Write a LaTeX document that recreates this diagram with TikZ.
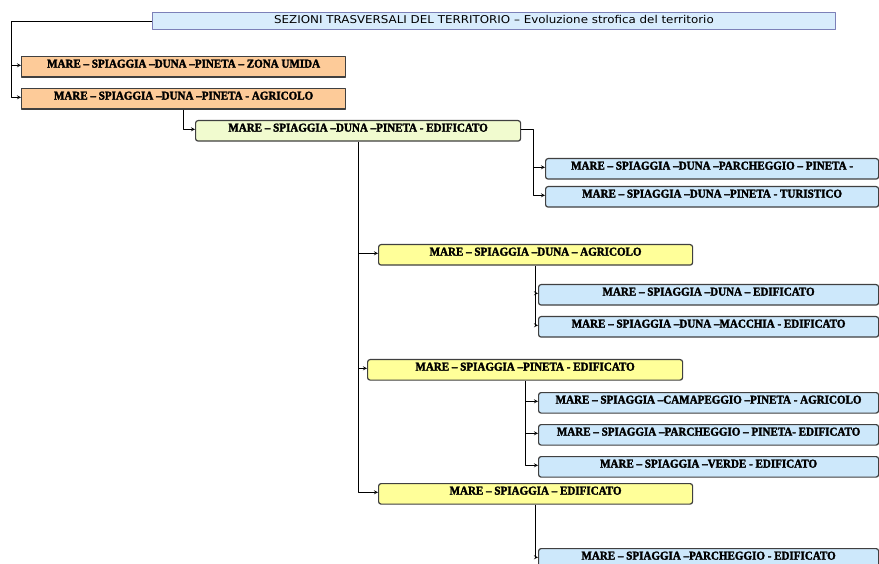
\documentclass[tikz,border=0pt]{standalone}
\usepackage{fontspec}
\setmainfont{Liberation Serif}[BoldFeatures={FakeStretch=0.92,FakeBold=2.2}]
\newfontfamily\titolofont{DejaVu Sans}[FakeStretch=1.1]
\definecolor{celeste}{HTML}{D8ECFC}
\definecolor{bordotit}{HTML}{7C80B8}
\definecolor{arancio}{HTML}{FDCB99}
\definecolor{verdino}{HTML}{F1FBCF}
\definecolor{giallo}{HTML}{FFFF99}
\definecolor{azzurro}{HTML}{CDE8FB}
\begin{document}
\begin{tikzpicture}[x=1pt, y=-1pt, line join=round, >=stealth, font=\fontsize{12}{14}\selectfont\bfseries]
	\tikzset{
		scheda/.style={draw=black!75, line width=1.2pt, anchor=north west, inner sep=0pt, text height=11pt, text depth=9.5pt},
		titolo/.style={draw=bordotit, fill=celeste, line width=0.9pt, anchor=north west, inner sep=0pt, minimum width=683pt, text height=11.5pt, text depth=5.5pt, font=\titolofont\fontsize{10.8}{12}\selectfont},
		arancione/.style={scheda, fill=arancio, minimum width=324pt},
		verde/.style={scheda, fill=verdino, rounded corners=2.5pt, minimum width=325pt},
		gialla/.style={scheda, fill=giallo, rounded corners=2.5pt, minimum width=314pt},
		blu/.style={scheda, fill=azzurro, rounded corners=2.5pt, minimum width=340pt},
		freccia/.style={->, line width=0.8pt, black}
	}
	\useasboundingbox (0,0) rectangle (879,564);
	\clip (0,0) rectangle (879,564);
	% titolo
	\node[titolo] (tit) at (152,12) {SEZIONI TRASVERSALI DEL TERRITORIO – Evoluzione strofica del territorio};
	% primo livello
	\node[arancione] (z1) at (21,56) {MARE – SPIAGGIA –DUNA –PINETA – ZONA UMIDA};
	\node[arancione] (z2) at (21,88) {MARE – SPIAGGIA –DUNA –PINETA - AGRICOLO};
	\node[verde] (z3) at (195,120) {MARE – SPIAGGIA –DUNA –PINETA - EDIFICATO};
	\node[blu, minimum width=333pt] (z4) at (545,158) {MARE – SPIAGGIA –DUNA –PARCHEGGIO – PINETA -};
	\node[blu, minimum width=333pt] (z5) at (545,186) {MARE – SPIAGGIA –DUNA –PINETA - TURISTICO};
	% rami gialli
	\node[gialla] (z6) at (378,244) {MARE – SPIAGGIA –DUNA – AGRICOLO};
	\node[blu] (z7) at (538,284) {MARE – SPIAGGIA –DUNA – EDIFICATO};
	\node[blu] (z8) at (538,316) {MARE – SPIAGGIA –DUNA –MACCHIA - EDIFICATO};
	\node[gialla, minimum width=315pt] (z9) at (367,359) {MARE – SPIAGGIA –PINETA - EDIFICATO};
	\node[blu] (z10) at (538,392) {MARE – SPIAGGIA –CAMAPEGGIO –PINETA - AGRICOLO};
	\node[blu] (z11) at (538,424) {MARE – SPIAGGIA –PARCHEGGIO – PINETA- EDIFICATO};
	\node[blu] (z12) at (538,456) {MARE – SPIAGGIA –VERDE - EDIFICATO};
	\node[gialla] (z13) at (378,483) {MARE – SPIAGGIA – EDIFICATO};
	\node[blu] (z14) at (538,548) {MARE – SPIAGGIA –PARCHEGGIO - EDIFICATO};
	% collegamenti
	\draw[freccia] (tit.west) -| ([xshift=-10pt]z2.mid west) -- (z2.mid west);
	\draw[freccia] ([xshift=-10pt]z1.mid west) -- (z1.mid west);
	\draw[freccia] (z2.south) |- (z3.mid west);
	\draw[freccia] (z3.mid east) -| ([xshift=-12pt]z5.mid west) -- (z5.mid west);
	\draw[freccia] ([xshift=-12pt]z4.mid west) -- (z4.mid west);
	\draw[freccia] (z3.south) |- (z13.mid west);
	\draw[freccia] (z3.south |- z6.mid west) -- (z6.mid west);
	\draw[freccia] (z3.south |- z9.mid west) -- (z9.mid west);
	\draw[freccia] (z6.south) |- (z8.mid west);
	\draw[freccia] (z6.south |- z7.mid west) -- (z7.mid west);
	\draw[freccia] (z9.south) |- (z12.mid west);
	\draw[freccia] (z9.south |- z10.mid west) -- (z10.mid west);
	\draw[freccia] (z9.south |- z11.mid west) -- (z11.mid west);
	\draw[freccia] (z13.south) |- (z14.mid west);
\end{tikzpicture}
\end{document}
